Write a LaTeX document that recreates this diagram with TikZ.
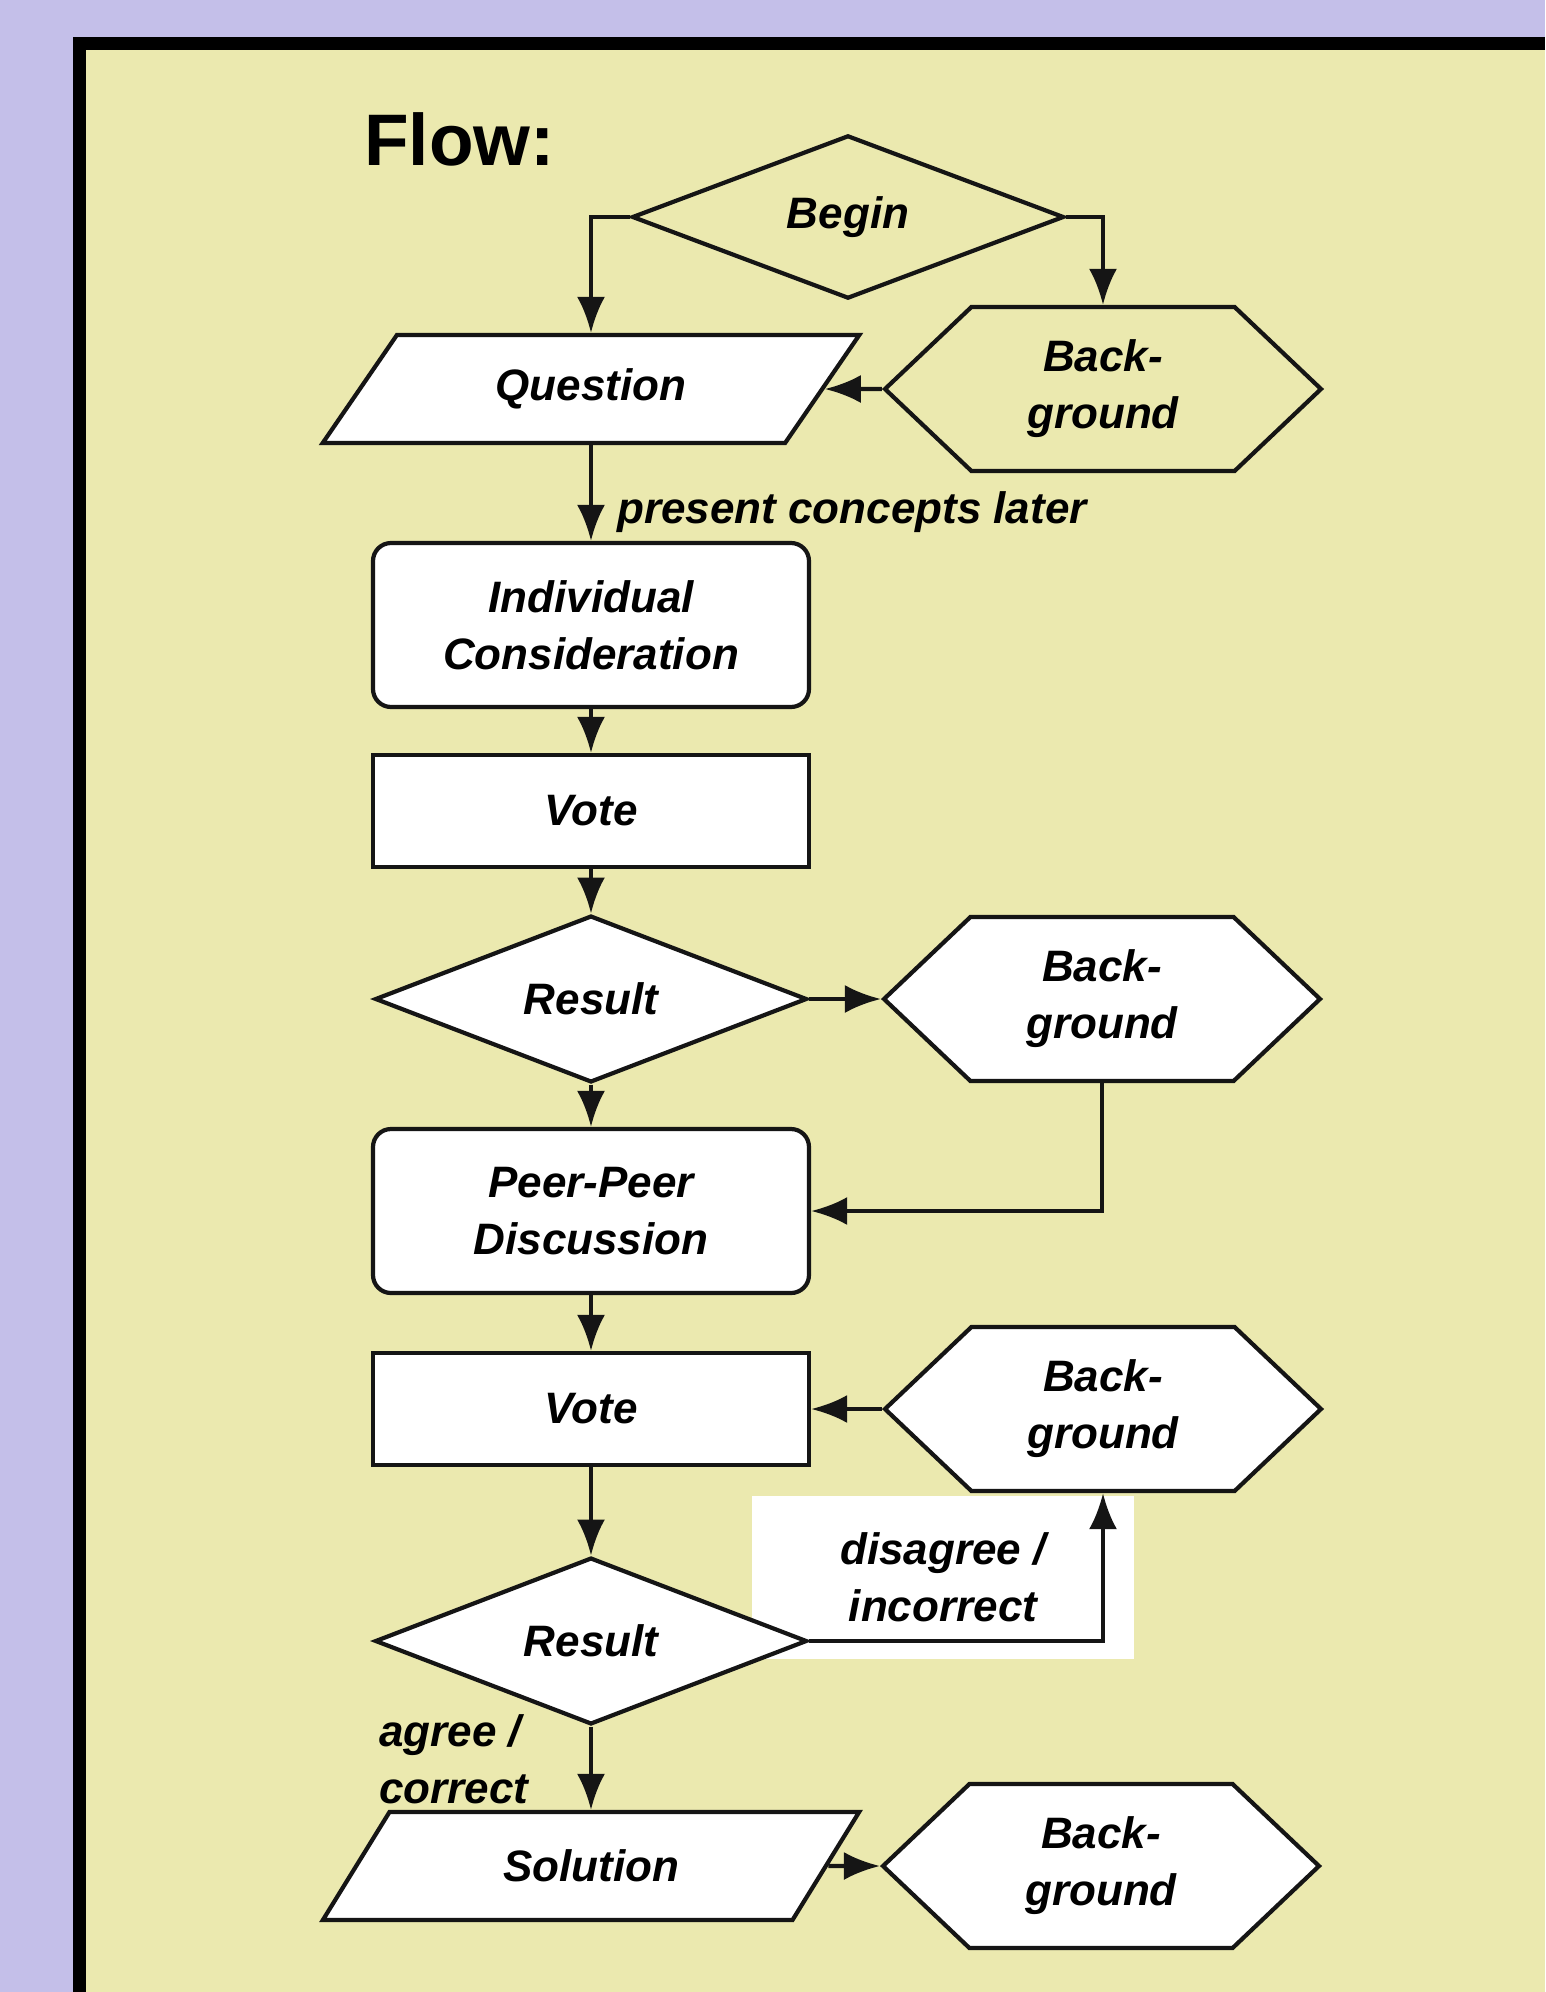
\documentclass[tikz,border=0pt]{standalone}
\usepackage{fontspec}
\setmainfont{Liberation Sans}
\usetikzlibrary{shapes.geometric,shapes.symbols,arrows.meta}
\definecolor{lav}{HTML}{C4BFE9}
\definecolor{pad}{HTML}{EBE9AF}
\definecolor{ink}{HTML}{151515}
\begin{document}
\begin{tikzpicture}[x=1pt,y=-1pt,
  every node/.style={font=\fontsize{44}{57}\selectfont\bfseries\itshape, inner sep=0pt, align=center, text=black},
  shp/.style={draw=ink, line width=4.2pt},
  decide/.style={shp, diamond, minimum width=432pt, minimum height=160pt, fill=white},
  hexa/.style={shp, signal, signal to=west and east, signal pointer angle=87, minimum width=436pt, minimum height=164pt, fill=white},
  slanted/.style={shp, trapezium, trapezium left angle=48, trapezium right angle=132, trapezium stretches=true, minimum width=538pt, minimum height=108pt, fill=white},
  stepbox/.style={shp, rectangle, minimum width=436pt, minimum height=112pt, fill=white},
  roundbox/.style={stepbox, rounded corners=18pt, minimum height=164pt},
  arr/.style={draw=ink, line width=4.2pt, -{Latex[length=36pt,width=28pt]}},
]
\useasboundingbox (0,0) rectangle (1545,1992);
% backdrop and framed panel
\fill[lav] (0,0) rectangle (1545,1992);
\fill[black] (73,37) rectangle (1545,1992);
\fill[pad] (86,50) rectangle (1545,1992);

\node[font=\fontsize{73}{80}\selectfont\bfseries, anchor=base west] (flow) at (364,165) {Flow:};

% flow chart nodes
\node[decide, fill=none] (begin) at (848,217) {Begin};
\node[hexa, fill=none] (bg1) at (1103,389) {Back-\\ground};
\node[slanted] (question) at (591,389) {Question};
\node[roundbox] (ic) at (591,625) {Individual\\Consideration};
\node[stepbox] (vote1) at (591,811) {Vote};
\node[decide] (res1) at (591,999) {Result};
\node[hexa] (bg2) at (1102,999) {Back-\\ground};
\node[roundbox] (ppd) at (591,1211) {Peer-Peer\\Discussion};
\node[stepbox] (vote2) at (591,1409) {Vote};
\node[hexa] (bg3) at (1103,1409) {Back-\\ground};
\node[fill=white, minimum width=382pt, minimum height=163pt] (dis) at (943,1577) {disagree /\\incorrect};
\node[decide] (res2) at (591,1641) {Result};
\node[slanted] (solution) at (591,1866) {Solution};
\node[hexa] (bg4) at (1101,1866) {Back-\\ground};

% edge labels
\node[anchor=base west] (pcl) at (617,523) {present concepts later};
\node[anchor=north west, align=left] (agr) at (379,1714) {agree /\\correct};

% connectors
\draw[arr] (begin.west) -| (question.north -| ic.north);
\draw[arr] (begin.east) -| (bg1.north);
\draw[arr] (bg1.west) -- (question.east);
\draw[arr] (question.south -| ic.north) -- (ic.north);
\draw[arr] (ic.south) -- (vote1.north);
\draw[arr] (vote1.south) -- (res1.north);
\draw[arr] (res1.east) -- (bg2.west);
\draw[arr] (res1.south) -- (ppd.north);
\draw[arr] (bg2.south) |- (ppd.east);
\draw[arr] (ppd.south) -- (vote2.north);
\draw[arr] (bg3.west) -- (vote2.east);
\draw[arr] (vote2.south) -- (res2.north);
\draw[arr] (res2.east) -| (bg3.south);
\draw[arr] (res2.south) -- (solution.north -| res2.south);
\draw[arr] (solution.east) -- (bg4.west);
\end{tikzpicture}
\end{document}
